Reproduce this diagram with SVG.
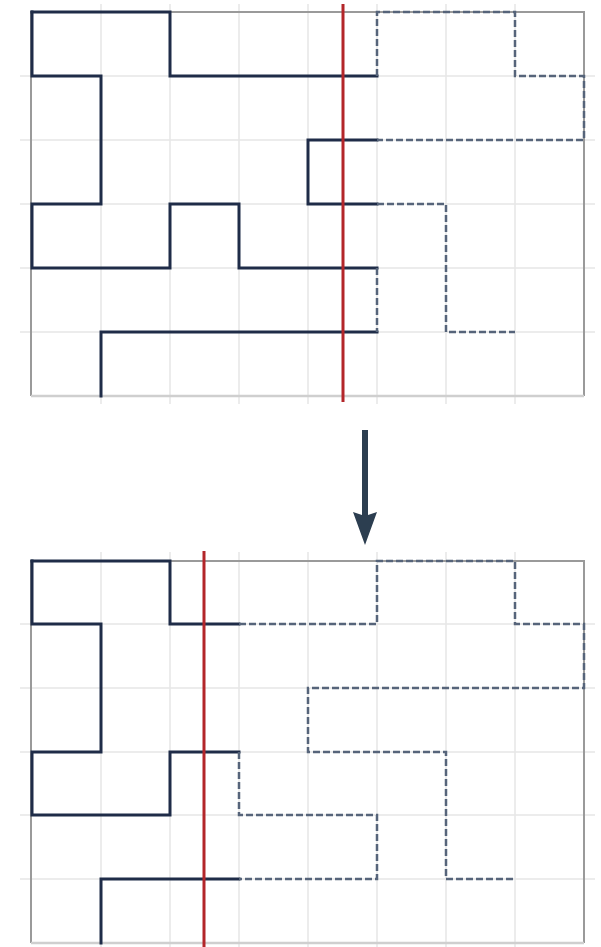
<svg xmlns="http://www.w3.org/2000/svg" width="601" height="947" viewBox="0 0 601 947">
<defs>
<style>
.grid{stroke:#e6e6e6;stroke-width:1.5;fill:none}
.frame{stroke:#9a9a9a;stroke-width:2;fill:none}
.frameb{stroke:#cfcfcf;stroke-width:2.5;fill:none}
.solid{stroke:#1f2c48;stroke-width:3;fill:none;stroke-linecap:square;stroke-linejoin:miter}
.dash{stroke:#56647a;stroke-width:2.5;fill:none;stroke-dasharray:7 3}
.cut{stroke:#b3262a;stroke-width:3;fill:none}
</style>
<marker id="head" markerWidth="34" markerHeight="24" refX="4" refY="12" markerUnits="userSpaceOnUse" orient="auto" viewBox="0 0 34 24">
<path d="M0,0 L4,12 L0,24 L33,12 Z" fill="#2c3e50"/>
</marker>
</defs>
<rect width="601" height="947" fill="#ffffff"/>

<g id="top-panel">
<g class="grid">
<path d="M101,4V404M170,4V404M239,4V404M308,4V404M377,4V404M446,4V404M515,4V404"/>
<path d="M20,76H595M20,140H595M20,204H595M20,268H595M20,332H595"/>
</g>
<path class="frame" d="M31,396V12H584V396"/>
<path class="frameb" d="M31,396H584"/>
<g id="top-solid" class="solid">
<path d="M32,12H170V76H377"/>
<path d="M32,12V76H101V204H32V268H170V204H239V268H377"/>
<path d="M377,140H308V204H377"/>
<path d="M377,332H101V396"/>
</g>
<g id="top-dashed" class="dash">
<path d="M377,76V12H515V76H584V140H377"/>
<path d="M377,204H446V332H515"/>
<path d="M377,268V332"/>
</g>
<path id="top-cut" class="cut" d="M343,4V402"/>
</g>

<g id="connectors">
<path d="M365,430V516" stroke="#2c3e50" stroke-width="6" fill="none" marker-end="url(#head)"/>
</g>

<g id="bottom-panel">
<g class="grid">
<path d="M101,552V947M170,552V947M239,552V947M308,552V947M377,552V947M446,552V947M515,552V947"/>
<path d="M20,624H595M20,688H595M20,752H595M20,815H595M20,879H595"/>
</g>
<path class="frame" d="M31,943V561H584V943"/>
<path class="frameb" d="M31,943H584"/>
<g id="bottom-solid" class="solid">
<path d="M32,561H170V624H239"/>
<path d="M32,561V624H101V752H32V815H170V752H239"/>
<path d="M239,879H101V943"/>
</g>
<g id="bottom-dashed" class="dash">
<path d="M239,624H377V561H515V624H584V688H308V752H446V879H515"/>
<path d="M239,752V815H377V879H239"/>
</g>
<path id="bottom-cut" class="cut" d="M204,551V947"/>
</g>
</svg>
